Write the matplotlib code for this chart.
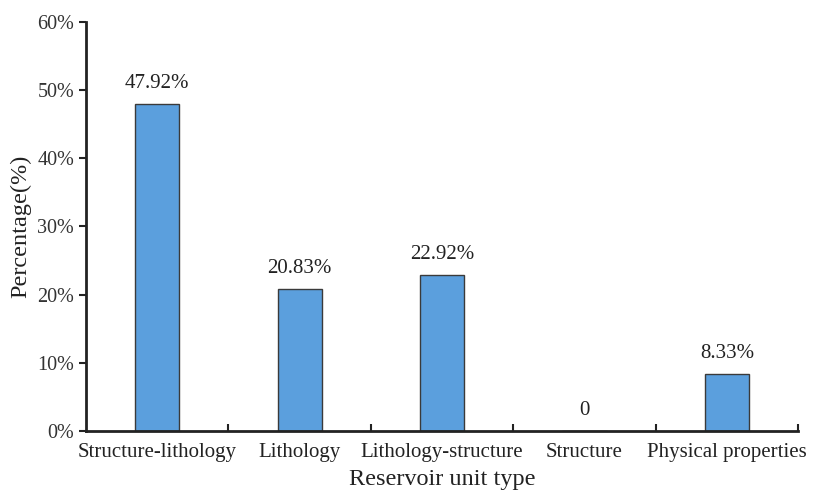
import matplotlib
matplotlib.use("Agg")
import matplotlib.pyplot as plt
from matplotlib.ticker import FuncFormatter, FixedLocator

# dados
tipos = ["Structure-lithology", "Lithology", "Lithology-structure", "Structure", "Physical properties"]
percentuais = [47.92, 20.83, 22.92, 0, 8.33]
rotulos = ["47.92%", "20.83%", "22.92%", "0", "8.33%"]

plt.rcParams["font.family"] = ["Liberation Serif", "DejaVu Serif"]

fig = plt.figure(figsize=(8.16, 4.93), dpi=100)
ax = fig.add_axes([0.1054, 0.1258, 0.8726, 0.8296])

x = list(range(len(tipos)))
ax.bar(x, percentuais, width=0.31, color="#5b9fdd", edgecolor="#3a3a3a", linewidth=1.0, zorder=2)

for xi, v, r in zip(x, percentuais, rotulos):
    ax.text(xi, v + 1.6, r, ha="center", va="bottom", fontsize=15, color="#222222")

ax.set_xlim(-0.5, len(tipos) - 0.5)
ax.set_ylim(0, 60)
ax.set_yticks(range(0, 61, 10))
ax.yaxis.set_major_formatter(FuncFormatter(lambda v, p: f"{int(v)}%"))

# ticks do eixo x entre categorias, rotulos centrados
ax.xaxis.set_major_locator(FixedLocator([i + 0.5 for i in range(len(tipos))]))
ax.xaxis.set_major_formatter(FuncFormatter(lambda v, p: ""))
ax.xaxis.set_minor_locator(FixedLocator(x))
ax.set_xticklabels(tipos, minor=True)
ax.tick_params(axis="x", which="major", direction="in", length=5, width=1.5, color="#222222")
ax.tick_params(axis="x", which="minor", length=0, pad=9, labelsize=15, labelcolor="#222222")
ax.tick_params(axis="y", direction="out", length=5, width=1.5, labelsize=14.5, labelcolor="#333333", color="#222222")

for lado in ["top", "right"]:
    ax.spines[lado].set_visible(False)
for lado in ["left", "bottom"]:
    ax.spines[lado].set_linewidth(2)
    ax.spines[lado].set_color("#222222")

ax.set_xlabel("Reservoir unit type", fontsize=17.5, color="#222222", labelpad=5)
ax.set_ylabel("Percentage(%)", fontsize=17.5, color="#222222", labelpad=4)

fig.savefig("out.png", dpi=100)
